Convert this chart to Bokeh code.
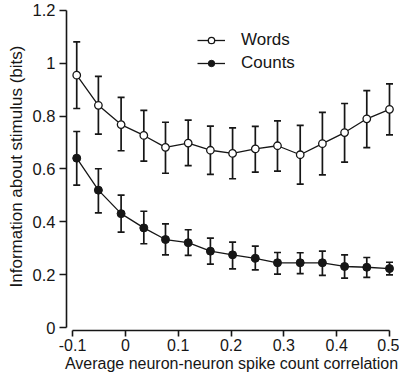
from bokeh.plotting import figure
from bokeh.models import (ColumnDataSource, Whisker, TeeHead, FixedTicker, Legend,
                          LegendItem, Range1d)
from bokeh.embed import file_html
from bokeh.resources import INLINE

# ---- data ----
corr = [-0.092, -0.051, -0.008, 0.035, 0.076, 0.119, 0.161, 0.203, 0.246,
        0.288, 0.331, 0.373, 0.415, 0.457, 0.500]
words = [0.955, 0.841, 0.768, 0.727, 0.682, 0.698, 0.671, 0.659, 0.676,
         0.688, 0.654, 0.696, 0.738, 0.790, 0.826]
words_hi = [1.081, 0.951, 0.871, 0.822, 0.777, 0.785, 0.762, 0.756, 0.761,
            0.782, 0.765, 0.814, 0.848, 0.897, 0.922]
words_lo = [0.829, 0.732, 0.669, 0.630, 0.584, 0.613, 0.580, 0.563, 0.588,
            0.592, 0.543, 0.578, 0.626, 0.681, 0.729]
counts = [0.641, 0.520, 0.431, 0.377, 0.333, 0.321, 0.289, 0.275, 0.262,
          0.245, 0.245, 0.245, 0.231, 0.228, 0.223]
counts_hi = [0.742, 0.601, 0.501, 0.440, 0.392, 0.370, 0.338, 0.323, 0.308,
             0.284, 0.283, 0.289, 0.275, 0.265, 0.247]
counts_lo = [0.539, 0.434, 0.361, 0.317, 0.275, 0.273, 0.240, 0.222, 0.218,
             0.202, 0.204, 0.197, 0.187, 0.190, 0.199]
series_names = ["Words", "Counts"]
x_ticks = [-0.1, 0, 0.1, 0.2, 0.3, 0.4, 0.5]
x_tick_labels = ["-0.1", "0", "0.1", "0.2", "0.3", "0.4", "0.5"]
y_ticks = [0, 0.2, 0.4, 0.6, 0.8, 1.0, 1.2]
y_tick_labels = ["0", "0.2", "0.4", "0.6", "0.8", "1", "1.2"]
x_label = "Average neuron-neuron spike count correlation"
y_label = "Information about stimulus (bits)"

FONT = "Liberation Sans"
INK = "#161616"

p = figure(width=399, height=375, output_backend="svg", toolbar_location=None,
           x_range=Range1d(-0.111357, 0.513249),
           y_range=Range1d(-0.011356, 1.23028),
           min_border_left=66, min_border_right=3, min_border_top=2,
           min_border_bottom=45)
p.outline_line_color = None
p.xgrid.visible = False
p.ygrid.visible = False
p.background_fill_color = "white"
p.border_fill_color = "white"

src_w = ColumnDataSource(dict(x=corr, y=words, hi=words_hi, lo=words_lo))
src_c = ColumnDataSource(dict(x=corr, y=counts, hi=counts_hi, lo=counts_lo))

for src in (src_w, src_c):
    wk = Whisker(source=src, base="x", upper="hi", lower="lo",
                 line_color=INK, line_width=1.7, level="underlay",
                 upper_head=TeeHead(size=7, line_color=INK, line_width=1.7),
                 lower_head=TeeHead(size=7, line_color=INK, line_width=1.7))
    p.add_layout(wk)

lw = p.line("x", "y", source=src_w, line_color=INK, line_width=1.3)
sw = p.scatter("x", "y", source=src_w, size=7.5, marker="circle",
               fill_color="white", line_color=INK, line_width=1.3)
lc = p.line("x", "y", source=src_c, line_color=INK, line_width=1.3)
sc = p.scatter("x", "y", source=src_c, size=8, marker="circle",
               fill_color=INK, line_color=INK, line_width=1.0)

legend = Legend(items=[LegendItem(label=series_names[0], renderers=[lw, sw]),
                       LegendItem(label=series_names[1], renderers=[lc, sc])],
                location=(131, 257), padding=0, margin=0, spacing=3,
                glyph_width=28, glyph_height=16, label_height=16,
                label_standoff=16, label_text_font=FONT,
                label_text_font_size="17px", label_text_color=INK,
                border_line_alpha=0, background_fill_alpha=0)
p.add_layout(legend)

for ax in (p.xaxis[0], p.yaxis[0]):
    ax.axis_line_color = INK
    ax.axis_line_width = 1.6
    ax.major_tick_line_color = INK
    ax.major_tick_line_width = 1.6
    ax.major_tick_in = 0
    ax.minor_tick_line_color = None
    ax.major_label_text_font = FONT
    ax.major_label_text_color = INK
    ax.axis_label_text_font = FONT
    ax.axis_label_text_font_style = "normal"
    ax.axis_label_text_color = INK

xa, ya = p.xaxis[0], p.yaxis[0]
xa.major_tick_out = 6
ya.major_tick_out = 7
xa.major_label_text_font_size = "16px"
ya.major_label_text_font_size = "16.5px"
xa.axis_label_text_font_size = "16px"
ya.axis_label_text_font_size = "17px"
xa.bounds = (x_ticks[0], x_ticks[-1])
ya.bounds = (y_ticks[0], y_ticks[-1])
xa.ticker = FixedTicker(ticks=x_ticks)
ya.ticker = FixedTicker(ticks=y_ticks)
xa.major_label_overrides = dict(zip(x_ticks, x_tick_labels))
ya.major_label_overrides = dict(zip(y_ticks, y_tick_labels))
xa.axis_label = x_label
ya.axis_label = y_label
xa.major_label_standoff = 2
ya.major_label_standoff = 4
xa.axis_label_standoff = 1
ya.axis_label_standoff = 4

open("out.html", "w").write(file_html(p, INLINE))
